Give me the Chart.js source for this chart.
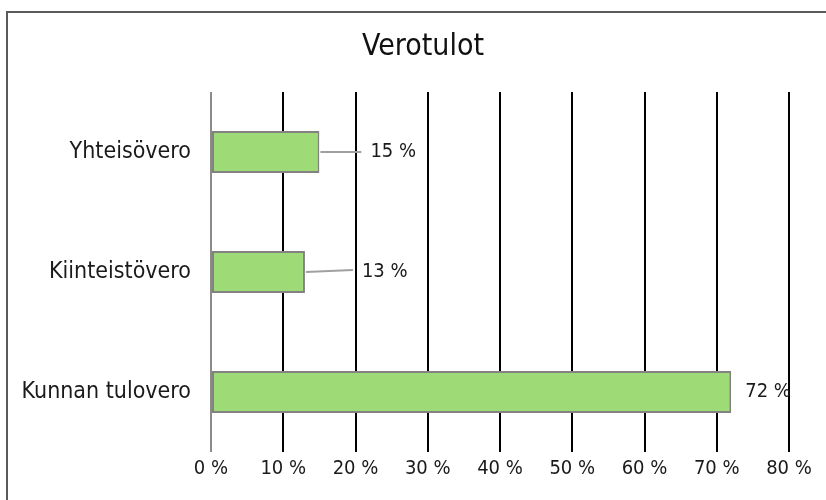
<!DOCTYPE html>
<html>
<head>
<meta charset="utf-8">
<script src="https://cdn.jsdelivr.net/npm/chart.js@4"></script>
<style>
  html, body { margin: 0; padding: 0; background: #fff; overflow: hidden; }
  #wrap { position: relative; width: 826px; height: 500px; }
  #frame { position: absolute; left: 6px; top: 11px; width: 900px; height: 600px; border: 2px solid #5a5a5a; }
  canvas { position: absolute; left: 0; top: 0; }
</style>
</head>
<body>
<div id="wrap">
  <div id="frame"></div>
  <canvas id="c" width="826" height="500"></canvas>
</div>
<script>
const chartTitle = 'Verotulot';
const categories = ['Yhteisövero', 'Kiinteistövero', 'Kunnan tulovero'];
const shares = [15, 13, 72];
const xTicks = [0, 10, 20, 30, 40, 50, 60, 70, 80];

const FONT = "'DejaVu Sans Condensed', 'DejaVu Sans', sans-serif";

// data labels moved away from the bars, with leader lines like the original
const labelOffsets = [51, 57, 14];

const valueLabels = {
  id: 'valueLabels',
  afterDatasetsDraw(chart) {
    const ctx = chart.ctx;
    const meta = chart.getDatasetMeta(0);
    ctx.save();
    ctx.font = '20px ' + FONT;
    ctx.fillStyle = '#1a1a1a';
    ctx.textBaseline = 'middle';
    ctx.textAlign = 'left';
    meta.data.forEach((bar, i) => {
      const off = labelOffsets[i];
      const tx = bar.x + off;
      if (off > 20) {
        ctx.strokeStyle = '#a0a0a0';
        ctx.lineWidth = 2;
        ctx.beginPath();
        ctx.moveTo(bar.x + 1, bar.y);
        ctx.lineTo(tx - 9, bar.y - (i === 1 ? 2 : 0));
        ctx.stroke();
      }
      ctx.fillText(shares[i] + ' %', tx, bar.y);
    });
    ctx.restore();
  }
};

// title sits centred on the whole frame, not on the plot
const frameTitle = {
  id: 'frameTitle',
  afterDraw(chart) {
    const ctx = chart.ctx;
    ctx.save();
    ctx.font = '30px ' + FONT;
    ctx.fillStyle = '#111';
    ctx.textAlign = 'center';
    ctx.textBaseline = 'middle';
    ctx.fillText(chartTitle, chart.width / 2 + 10, 47);
    ctx.restore();
  }
};

new Chart(document.getElementById('c'), {
  type: 'bar',
  data: {
    labels: categories,
    datasets: [{
      data: shares,
      backgroundColor: '#9edb76',
      borderColor: '#828282',
      borderWidth: 2,
      borderSkipped: false,
      barPercentage: 0.35,
      categoryPercentage: 1
    }]
  },
  options: {
    indexAxis: 'y',
    responsive: false,
    animation: false,
    layout: { padding: { left: 0, right: 37, top: 92, bottom: 0 } },
    plugins: {
      legend: { display: false },
      tooltip: { enabled: false },
      title: { display: false }
    },
    scales: {
      x: {
        min: 0,
        max: 80,
        afterBuildTicks(axis) { axis.ticks = xTicks.map(v => ({ value: v })); },
        afterFit(axis) { axis.height = 48; },
        border: { display: false },
        grid: {
          drawTicks: false,
          lineWidth: 2,
          color: c => c.index === 0 ? '#8a8a8a' : '#000'
        },
        ticks: {
          padding: 5,
          color: '#1a1a1a',
          font: { family: FONT, size: 20 },
          callback: v => v + ' %'
        }
      },
      y: {
        afterFit(axis) { axis.width = 211; },
        border: { display: false },
        grid: { display: false, drawTicks: false },
        ticks: {
          padding: 20,
          color: '#1a1a1a',
          font: { family: FONT, size: 23 }
        }
      }
    }
  },
  plugins: [valueLabels, frameTitle]
});
</script>
</body>
</html>
